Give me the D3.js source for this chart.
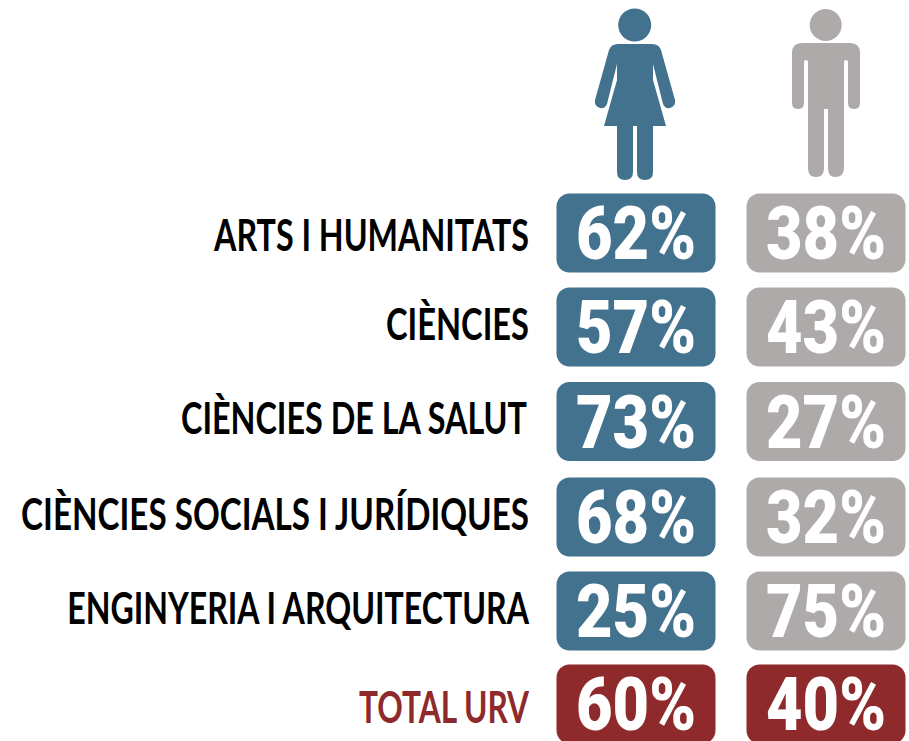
<!DOCTYPE html>
<html><head><meta charset="utf-8"><script src="https://d3js.org/d3.v7.min.js"></script>
<style>html,body{margin:0;padding:0;background:#fff}svg{display:block}.lab{font-family:Lato,"Open Sans",sans-serif}.pct{font-family:Roboto,"Liberation Sans",sans-serif}</style></head><body>
<svg id="c" width="909" height="741"></svg>
<script>
const categories=["ARTS I HUMANITATS","CIÈNCIES","CIÈNCIES DE LA SALUT","CIÈNCIES SOCIALS I JURÍDIQUES","ENGINYERIA I ARQUITECTURA","TOTAL URV"];
const dones=[62,57,73,68,25,60];
const homes=[38,43,27,32,75,40];
const groups=["dones","homes"];
const svg=d3.select("#c");
const y=d3.scaleOrdinal().domain(categories).range([233,327,421.5,517,611,704]);
const labelY=d3.scaleOrdinal().domain(categories).range([251,340,434,530,624,723]);
const labelRight=d3.scaleOrdinal().domain(categories).range([529,529,527,529,529,529]);
const labelW=d3.scaleOrdinal().domain(categories).range([315,143,346,508,462,170]);
const x=d3.scalePoint().domain(groups).range([636,826]);
const blue="#43728e",grey="#aeaaa9",red="#8f2a2c";
// squeeze a text horizontally to a target width around its anchor
const squeeze=(sel,px,py,w)=>{
 const n=sel.node().getComputedTextLength();
 sel.attr("transform",`translate(${px},${py}) scale(${w/n},1)`);
};
categories.forEach((c,i)=>{
 const yy=y(c),tot=i===5;
 svg.append("text").attr("class","lab").attr("text-anchor","end").attr("font-size",44).attr("font-weight",700).attr("fill",tot?red:"#000").text(c)
  .call(squeeze,labelRight(c),labelY(c),labelW(c));
 [[dones,blue,"dones"],[homes,grey,"homes"]].forEach(([arr,col,g])=>{
  svg.append("rect").attr("x",x(g)-79.5).attr("y",yy-39.5).attr("width",159).attr("height",79).attr("rx",13).attr("fill",tot?red:col);
  svg.append("text").attr("class","pct").attr("text-anchor","middle").attr("font-size",74).attr("font-weight",900).attr("fill","#fff").text(arr[i]+"%")
   .call(squeeze,x(g),yy+26,120);
 });
});
function woman(g){
 g.append("circle").attr("cx",634.7).attr("cy",25).attr("r",16.5).attr("fill",blue);
 g.append("path").attr("fill",blue).attr("d","M618 44H652Q659 44 661 50L675 100Q676 106 670 108Q665 109 663 104L653 64V80L666 126H653V172Q653 180 645 180Q637 180 637 172V126H633V172Q633 180 625 180Q617 180 617 172V126H604L617 80V64L607 104Q605 109 600 108Q594 106 595 100L609 50Q611 44 618 44Z");
}
function man(g){
 g.append("circle").attr("cx",825.7).attr("cy",25).attr("r",16).attr("fill",grey);
 g.append("path").attr("fill",grey).attr("d","M802 43H850Q860 43 860 53V103Q860 109 854 109Q848 109 848 103V62Q848 60 846 60Q844 60 844 62V168Q844 177 835 177Q828 177 828 168V109H824V168Q824 177 816 177Q808 177 808 168V62Q808 60 806 60Q804 60 804 62V103Q804 109 798 109Q792 109 792 103V53Q792 43 802 43Z");
}
woman(svg.append("g"));man(svg.append("g"));
</script></body></html>
